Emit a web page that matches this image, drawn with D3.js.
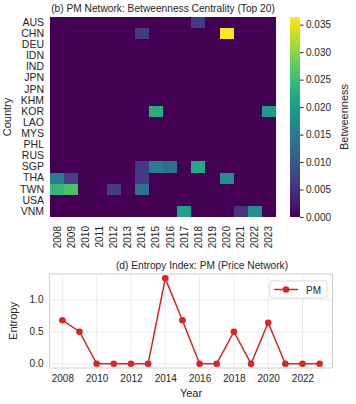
<!DOCTYPE html>
<html><head><meta charset="utf-8">
<script src="https://cdn.jsdelivr.net/npm/d3@7"></script>
<style>
body{margin:0;background:#fff;}
svg text{font-family:"Liberation Sans",Arial,sans-serif;fill:#262626;}
</style></head>
<body><svg id="c" width="356" height="404"></svg>
<script>
const countries = ["AUS","CHN","DEU","IDN","IND","JPN","JPN","KHM","KOR","LAO","MYS","PHL","RUS","SGP","THA","TWN","USA","VNM"];
const years = [2008,2009,2010,2011,2012,2013,2014,2015,2016,2017,2018,2019,2020,2021,2022,2023];
// betweenness per country row, one value per year
const betweenness = [
 [0,0,0,0,0,0,0,0,0,0,0.006,0,0,0,0,0],
 [0,0,0,0,0,0,0.006,0,0,0,0,0,0.0364,0,0,0],
 [0,0,0,0,0,0,0,0,0,0,0,0,0,0,0,0],
 [0,0,0,0,0,0,0,0,0,0,0,0,0,0,0,0],
 [0,0,0,0,0,0,0,0,0,0,0,0,0,0,0,0],
 [0,0,0,0,0,0,0,0,0,0,0,0,0,0,0,0],
 [0,0,0,0,0,0,0,0,0,0,0,0,0,0,0,0],
 [0,0,0,0,0,0,0,0,0,0,0,0,0,0,0,0],
 [0,0,0,0,0,0,0,0.023,0,0,0,0,0,0,0,0.020],
 [0,0,0,0,0,0,0,0,0,0,0,0,0,0,0,0],
 [0,0,0,0,0,0,0,0,0,0,0,0,0,0,0,0],
 [0,0,0,0,0,0,0,0,0,0,0,0,0,0,0,0],
 [0,0,0,0,0,0,0,0,0,0,0,0,0,0,0,0],
 [0,0,0,0,0,0,0.006,0.0155,0.013,0,0.022,0,0,0,0,0],
 [0.015,0.007,0,0,0,0,0.006,0,0,0,0,0,0.018,0,0,0],
 [0.024,0.026,0,0,0.0065,0,0.013,0,0,0,0,0,0,0,0,0],
 [0,0,0,0,0,0,0,0,0,0,0,0,0,0,0,0],
 [0,0,0,0,0,0,0,0,0,0.021,0,0,0,0.0055,0.018,0]
];
const cbTicks = [0,0.005,0.010,0.015,0.020,0.025,0.030,0.035];
const entropyYears = [2008,2009,2010,2011,2012,2013,2014,2015,2016,2017,2018,2019,2020,2021,2022,2023];
const entropyPM = [0.68,0.50,0,0,0,0,1.335,0.68,0,0,0.50,0,0.64,0,0,0];
const xTicks2 = [2008,2010,2012,2014,2016,2018,2020,2022];
const yTicks2 = [0,0.5,1.0];

const svg = d3.select("#c");
const vmax = 0.0364;
const color = d3.scaleSequential(d3.interpolateViridis).domain([0,vmax]);

// ---------- Heatmap ----------
const hm = {l:50,r:276,t:17,b:217};
const x = d3.scaleBand().domain(years).range([hm.l,hm.r]);
const y = d3.scaleBand().domain(d3.range(countries.length)).range([hm.t,hm.b]);
const cells = [];
betweenness.forEach((row,i)=>row.forEach((v,j)=>cells.push({i,yr:years[j],v})));
svg.append("rect").attr("x",hm.l).attr("y",hm.t).attr("width",hm.r-hm.l).attr("height",hm.b-hm.t)
  .attr("fill",color(0));
svg.append("g").selectAll("rect").data(cells.filter(d=>d.v>0)).join("rect")
  .attr("x",d=>x(d.yr)).attr("y",d=>y(d.i))
  .attr("width",x.bandwidth()).attr("height",y.bandwidth())
  .attr("fill",d=>color(d.v)).attr("shape-rendering","crispEdges");

const yAx = svg.append("g").attr("transform",`translate(${hm.l},0)`)
  .call(d3.axisLeft(y).tickSize(0).tickPadding(6).tickFormat(i=>countries[i]));
yAx.select(".domain").remove();
yAx.selectAll("text").attr("font-size",10.5).style("fill","#262626");

const xAx = svg.append("g").attr("transform",`translate(0,${hm.b})`)
  .call(d3.axisBottom(x).tickSize(0).tickPadding(0));
xAx.select(".domain").remove();
xAx.selectAll("text").attr("font-size",10).attr("transform","rotate(-90)")
  .attr("text-anchor","end").attr("x",-9).attr("y",0).attr("dy","0.35em").style("fill","#262626");

svg.append("text").attr("x",163).attr("y",12).attr("text-anchor","middle")
  .attr("font-size",10.2).text("(b) PM Network: Betweenness Centrality (Top 20)");
svg.append("text").attr("transform",`translate(11,${(hm.t+hm.b)/2}) rotate(-90)`)
  .attr("text-anchor","middle").attr("font-size",11).text("Country");

// colorbar
const cb = {l:290,r:300};
const cy = d3.scaleLinear().domain([0,vmax]).range([hm.b,hm.t]);
const defs = svg.append("defs");
const grad = defs.append("linearGradient").attr("id","vg").attr("x1",0).attr("y1",1).attr("x2",0).attr("y2",0);
d3.range(0,1.0001,0.05).forEach(t=>grad.append("stop").attr("offset",t).attr("stop-color",d3.interpolateViridis(t)));
svg.append("rect").attr("x",cb.l).attr("y",hm.t).attr("width",cb.r-cb.l).attr("height",hm.b-hm.t).attr("fill","url(#vg)");
const cAx = svg.append("g").attr("transform",`translate(${cb.r},0)`)
  .call(d3.axisRight(cy).tickValues(cbTicks).tickSize(3.5).tickPadding(2.5).tickFormat(d3.format(".3f")));
cAx.select(".domain").remove();
cAx.selectAll("line").attr("stroke","#262626");
cAx.selectAll("text").attr("font-size",10).style("fill","#262626");
svg.append("text").attr("transform",`translate(348,${(hm.t+hm.b)/2}) rotate(-90)`)
  .attr("text-anchor","middle").attr("font-size",11).text("Betweenness");

// ---------- Line chart ----------
const lp = {l:49.5,r:332.5,t:274,b:368};
const x2 = d3.scaleLinear().domain([2007.25,2023.75]).range([lp.l,lp.r]);
const y2 = d3.scaleLinear().domain([-0.067,1.403]).range([lp.b,lp.t]);
const g2 = svg.append("g");
g2.append("g").selectAll("line").data(xTicks2).join("line")
  .attr("x1",d=>x2(d)).attr("x2",d=>x2(d)).attr("y1",lp.t).attr("y2",lp.b)
  .attr("stroke","#e6e6e6").attr("stroke-width",0.8);
g2.append("g").selectAll("line").data(yTicks2).join("line")
  .attr("x1",lp.l).attr("x2",lp.r).attr("y1",d=>y2(d)).attr("y2",d=>y2(d))
  .attr("stroke","#e6e6e6").attr("stroke-width",0.8);
g2.append("rect").attr("x",lp.l).attr("y",lp.t).attr("width",lp.r-lp.l).attr("height",lp.b-lp.t)
  .attr("fill","none").attr("stroke","#d0d0d0").attr("stroke-width",1);

const xa2 = g2.append("g").attr("transform",`translate(0,${lp.b})`)
  .call(d3.axisBottom(x2).tickValues(xTicks2).tickSize(0).tickPadding(7).tickFormat(d3.format("d")));
xa2.select(".domain").remove();
xa2.selectAll("text").attr("font-size",10).style("fill","#262626");
const ya2 = g2.append("g").attr("transform",`translate(${lp.l},0)`)
  .call(d3.axisLeft(y2).tickValues(yTicks2).tickSize(0).tickPadding(6).tickFormat(d3.format(".1f")));
ya2.select(".domain").remove();
ya2.selectAll("text").attr("font-size",10).style("fill","#262626");

const red = "#d62728";
const pts = entropyYears.map((yr,i)=>({yr,v:entropyPM[i]}));
g2.append("path").datum(pts)
  .attr("d",d3.line().x(d=>x2(d.yr)).y(d=>y2(d.v)))
  .attr("fill","none").attr("stroke",red).attr("stroke-width",1.5);
g2.append("g").selectAll("circle").data(pts).join("circle")
  .attr("cx",d=>x2(d.yr)).attr("cy",d=>y2(d.v)).attr("r",3.3).attr("fill",red);

svg.append("text").attr("x",202).attr("y",269).attr("text-anchor","middle")
  .attr("font-size",10.2).text("(d) Entropy Index: PM (Price Network)");
svg.append("text").attr("x",191).attr("y",397).attr("text-anchor","middle")
  .attr("font-size",11).text("Year");
svg.append("text").attr("transform",`translate(17,${(lp.t+lp.b)/2}) rotate(-90)`)
  .attr("text-anchor","middle").attr("font-size",11).text("Entropy");

// legend
const lg = svg.append("g");
lg.append("rect").attr("x",270).attr("y",281).attr("width",57).attr("height",17).attr("rx",2.5)
  .attr("fill","#fff").attr("fill-opacity",0.8).attr("stroke","#d0d0d0").attr("stroke-width",0.8);
lg.append("line").attr("x1",274).attr("x2",298).attr("y1",289.5).attr("y2",289.5).attr("stroke",red).attr("stroke-width",1.5);
lg.append("circle").attr("cx",286).attr("cy",289.5).attr("r",3.3).attr("fill",red);
lg.append("text").attr("x",306).attr("y",293.5).attr("font-size",10).text("PM");
</script></body></html>
